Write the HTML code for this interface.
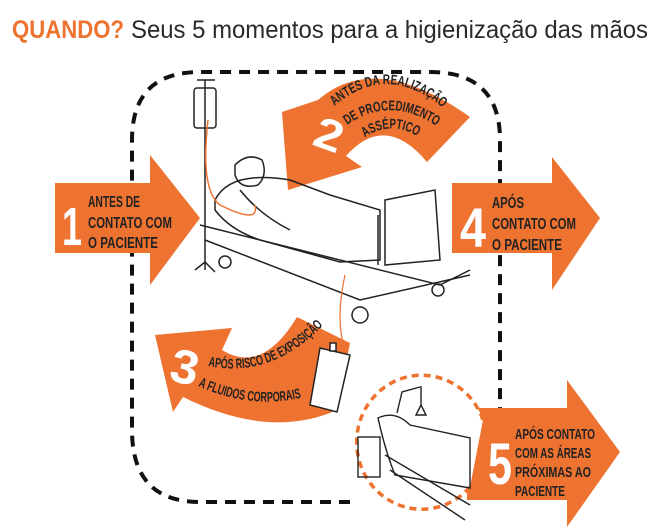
<!DOCTYPE html>
<html><head><meta charset="utf-8"><style>
html,body{margin:0;padding:0;background:#fff;width:660px;height:530px;overflow:hidden}
svg{display:block}
text{font-family:"Liberation Sans",sans-serif}
</style></head><body>
<svg width="660" height="530" viewBox="0 0 660 530" xmlns="http://www.w3.org/2000/svg">
<defs>
<path id="a2l1" d="M330,110 Q392,52 460,124"/>
<path id="a2l2" d="M343,128 Q395,88 452,138"/>
<path id="a2l3" d="M360,141 Q393,114 430,145"/>
<path id="a3l1" d="M208,366 Q275,380 330,318"/>
<path id="a3l2" d="M198,386 Q260,414 320,392"/>
</defs>
<text x="12" y="38" font-size="25" fill="#ee7230" font-weight="bold" textLength="112" lengthAdjust="spacingAndGlyphs">QUANDO?</text>
<text x="131" y="38" font-size="25" fill="#2a2a2a" textLength="517" lengthAdjust="spacingAndGlyphs">Seus 5 momentos para a higienização das mãos</text>

<path d="M350,502 L200,502 Q132,502 132,430 L132,140 Q132,72 200,72 L430,72 Q500,72 500,140 L500,435" fill="none" stroke="#111" stroke-width="4" stroke-dasharray="11,8"/>

<polygon points="55,183 150,183 150,155 200,218 150,285 150,253 55,253" fill="#ee7230"/>
<text x="62" y="245" font-size="54" fill="#fff" font-weight="bold" textLength="20" lengthAdjust="spacingAndGlyphs">1</text>
<g font-size="16" fill="#222" font-weight="bold"><text x="88" y="207" textLength="52" lengthAdjust="spacingAndGlyphs">ANTES DE</text><text x="88" y="228" textLength="84" lengthAdjust="spacingAndGlyphs">CONTATO COM</text><text x="88" y="248" textLength="70" lengthAdjust="spacingAndGlyphs">O PACIENTE</text></g>

<polygon points="452,183 552,183 552,157 600,218 552,290 552,253 452,253" fill="#ee7230"/>
<text x="460" y="247" font-size="56" fill="#fff" font-weight="bold" textLength="26" lengthAdjust="spacingAndGlyphs">4</text>
<g font-size="16" fill="#222" font-weight="bold"><text x="492" y="208" textLength="32" lengthAdjust="spacingAndGlyphs">APÓS</text><text x="492" y="229" textLength="84" lengthAdjust="spacingAndGlyphs">CONTATO COM</text><text x="492" y="250" textLength="70" lengthAdjust="spacingAndGlyphs">O PACIENTE</text></g>

<path d="M282,112 L318,100 Q375,50 470,117 L427,162 Q385,112 346,156 L362,167 L288,190 Z" fill="#ee7230"/>
<text x="316" y="150" font-size="44" fill="#fff" font-weight="bold" textLength="28" lengthAdjust="spacingAndGlyphs" transform="rotate(20 330 132)">2</text>
<g font-size="14" fill="#222" font-weight="bold">
<text><textPath href="#a2l1" startOffset="6" textLength="120" lengthAdjust="spacingAndGlyphs">ANTES DA REALIZAÇÃO</textPath></text>
<text><textPath href="#a2l2" startOffset="5" textLength="96" lengthAdjust="spacingAndGlyphs">DE PROCEDIMENTO</textPath></text>
<text><textPath href="#a2l3" startOffset="6" textLength="56" lengthAdjust="spacingAndGlyphs">ASSÉPTICO</textPath></text>
</g>

<path d="M155,335 L232,328 L222,350 Q262,375 297,317 L350,343 L337,410 Q270,440 183,397 L173,412 Z" fill="#ee7230"/>
<text x="172" y="384" font-size="48" fill="#fff" font-weight="bold" textLength="28" lengthAdjust="spacingAndGlyphs" transform="rotate(12 188 362)">3</text>
<g font-size="14" fill="#222" font-weight="bold">
<text><textPath href="#a3l1" textLength="128" lengthAdjust="spacingAndGlyphs">APÓS RISCO DE EXPOSIÇÃO</textPath></text>
<text><textPath href="#a3l2" textLength="106" lengthAdjust="spacingAndGlyphs">A FLUIDOS CORPORAIS</textPath></text>
</g>

<polygon points="467,408 567,408 567,380 620,452 567,527 567,500 467,500" fill="#ee7230"/>
<text x="488" y="484" font-size="58" fill="#fff" font-weight="bold" textLength="24" lengthAdjust="spacingAndGlyphs">5</text>
<g font-size="15" fill="#222" font-weight="bold"><text x="515" y="439" textLength="80" lengthAdjust="spacingAndGlyphs">APÓS CONTATO</text><text x="515" y="458" textLength="76" lengthAdjust="spacingAndGlyphs">COM AS ÁREAS</text><text x="515" y="477" textLength="76" lengthAdjust="spacingAndGlyphs">PRÓXIMAS AO</text><text x="515" y="496" textLength="50" lengthAdjust="spacingAndGlyphs">PACIENTE</text></g>

<path d="M483,420 A65,67 0 1 0 470,487" fill="#fff" stroke="#ee7230" stroke-width="3.5" stroke-dasharray="7,5"/>

<g fill="none" stroke="#222" stroke-width="1.5">
<rect x="194" y="88" width="22" height="40" rx="3"/>
<line x1="205" y1="80" x2="205" y2="270"/>
<line x1="197" y1="80" x2="215" y2="80"/>
<path d="M195,270 L205,262 L215,272"/>
<path d="M235,165 Q248,152 262,160 Q268,175 258,185 Q240,190 235,175 Z"/>
<path d="M215,200 Q230,170 290,180 L330,195 L380,210 L380,260 L340,262 L260,240 Q230,230 215,210 Z"/>
<path d="M200,225 L440,285 L470,270"/>
<path d="M205,240 L360,300 L470,275"/>
<path d="M378,215 L378,265 M385,200 L435,190 L440,260 L385,265 Z"/>
<circle cx="225" cy="262" r="6"/>
<circle cx="360" cy="315" r="8"/>
<circle cx="438" cy="290" r="6"/>
<path d="M240,190 Q260,215 290,230"/>
</g>
<path d="M208,120 Q200,190 220,205 Q260,225 255,205" fill="none" stroke="#ee7230" stroke-width="1.5"/>
<path d="M345,275 Q335,320 345,350" fill="none" stroke="#ee7230" stroke-width="1.2"/>
<g fill="#fff" stroke="#222" stroke-width="1.5">
<path d="M320,348 L350,355 L337,412 L310,405 Z"/>
<rect x="330" y="343" width="6" height="8"/>
</g>

<g fill="none" stroke="#222" stroke-width="1.4">
<path d="M397,413 L402,392 L420,387 M421,386 L421,405 M416,415 L421,405 L426,415 Z"/>
<path d="M378,418 Q395,410 410,425 L470,438 L470,488 L395,475 Q385,450 378,418 Z"/>
<path d="M385,455 L470,505"/>
<path d="M390,470 L465,520"/>
<rect x="358" y="437" width="22" height="40"/>
</g>
</svg>
</body></html>
